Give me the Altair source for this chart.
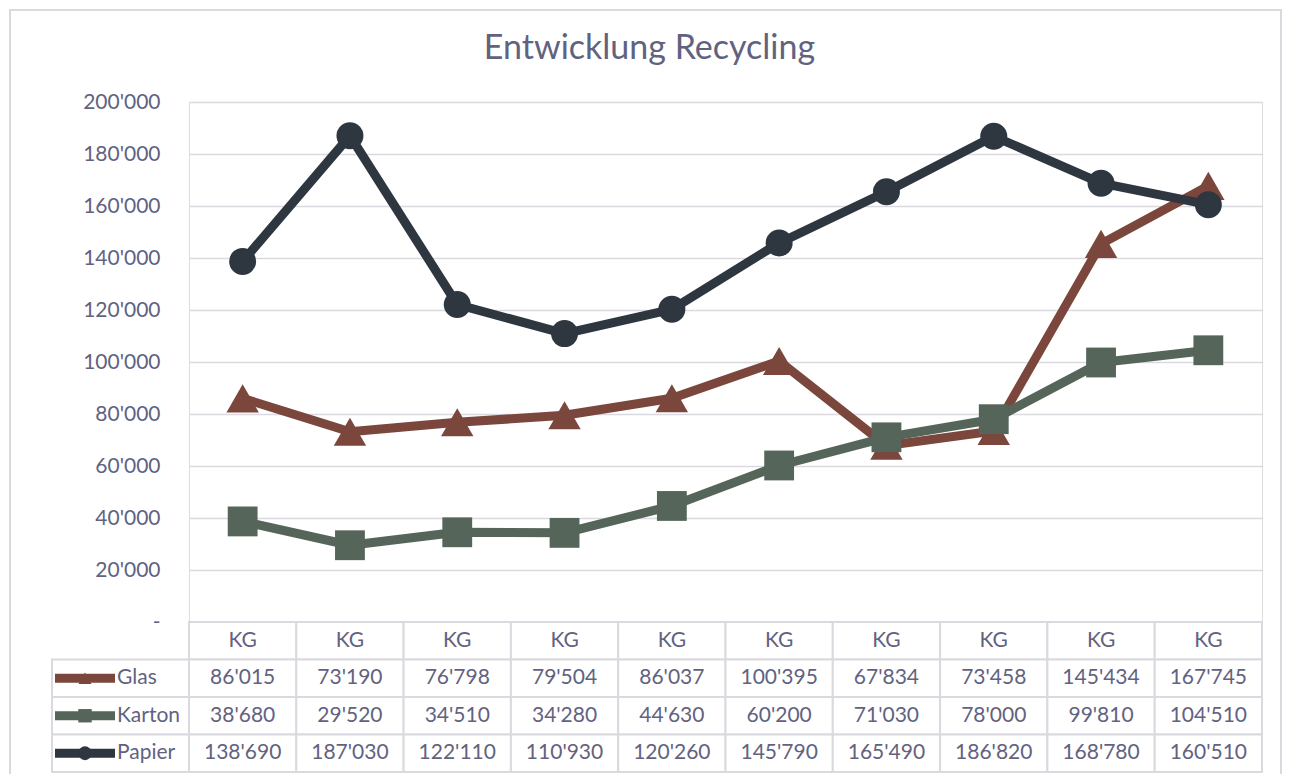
import altair as alt
import pandas as pd

# ---- data ----
title_text = "Entwicklung Recycling"
categories = ["KG", "KG", "KG", "KG", "KG", "KG", "KG", "KG", "KG", "KG"]
series = ["Glas", "Karton", "Papier"]
glas = [86015, 73190, 76798, 79504, 86037, 100395, 67834, 73458, 145434, 167745]
karton = [38680, 29520, 34510, 34280, 44630, 60200, 71030, 78000, 99810, 104510]
papier = [138690, 187030, 122110, 110930, 120260, 145790, 165490, 186820, 168780, 160510]
y_ticks = [0, 20000, 40000, 60000, 80000, 100000, 120000, 140000, 160000, 180000, 200000]

# ---- style ----
colors = ["#7B473D", "#56655A", "#2E3640"]
shapes = ["triangle-up", "square", "circle"]
sizes = [1050, 729, 529]
legend_sizes = [170, 190, 190]
text_color = "#62627F"
grid_color = "#D9D9DF"
FONT = "Lato"
FS = 21

rows = []
for name, vals in zip(series, [glas, karton, papier]):
    for i, v in enumerate(vals):
        rows.append({"idx": i, "series": name, "value": v})
df = pd.DataFrame(rows)

row_order = ["hdr"] + series
tbl_rows = []
for i, c in enumerate(categories):
    tbl_rows.append({"idx": i, "row": "hdr", "label": c})
for name, vals in zip(series, [glas, karton, papier]):
    for i, v in enumerate(vals):
        tbl_rows.append({"idx": i, "row": name, "label": f"{v:,}".replace(",", "'")})
tbl = pd.DataFrame(tbl_rows)
leg = pd.DataFrame({"row": series, "series": series})

xscale = alt.Scale(type="band", paddingInner=0, paddingOuter=0)
X = alt.X("idx:O", scale=xscale, axis=None)
cscale = alt.Scale(domain=series, range=colors)
shscale = alt.Scale(domain=series, range=shapes)
szscale = alt.Scale(domain=series, range=sizes)
rowscale = alt.Scale(type="band", domain=row_order, range=[520, 670], paddingInner=0, paddingOuter=0)

yaxis = alt.Axis(
    values=y_ticks,
    labelExpr="datum.value == 0 ? '-\u2007' : replace(format(datum.value, ','), ',', \"'\")",
    grid=True, gridColor=grid_color, gridWidth=1.5,
    domain=False, ticks=False, tickSize=0,
    labelFontSize=FS, labelColor=text_color, labelFont=FONT, labelPadding=29,
    title=None,
)
Y = alt.Y("value:Q", scale=alt.Scale(domain=[0, 200000], nice=False), axis=yaxis)

plot_layers = []
for name in series:
    base = alt.Chart(df).transform_filter(alt.datum.series == name)
    plot_layers.append(
        base.mark_line(strokeWidth=9, strokeJoin="round").encode(
            x=X, y=Y, color=alt.Color("series:N", scale=cscale, legend=None)
        )
    )
    plot_layers.append(
        base.mark_point(filled=True, opacity=1).encode(
            x=X, y=Y,
            color=alt.Color("series:N", scale=cscale, legend=None),
            shape=alt.Shape("series:N", scale=shscale, legend=None),
            size=alt.Size("series:N", scale=szscale, legend=None),
        )
    )
plot = alt.layer(*plot_layers)

RY = alt.Y("row:N", scale=rowscale, axis=None)
RYc = alt.Y("row:N", scale=rowscale, axis=None, bandPosition=0.5)

cells = alt.Chart(tbl).mark_rect(fill="white", stroke=grid_color, strokeWidth=2).encode(x=X, y=RY)
leg_cells = alt.Chart(leg).mark_rect(fill="white", stroke=grid_color, strokeWidth=2).encode(
    x=alt.value(-137), x2=alt.value(0), y=RY
)
cell_text = alt.Chart(tbl).mark_text(fontSize=FS, color=text_color, font=FONT, baseline="middle").encode(
    x=X, y=RYc, text="label:N"
)
leg_line = alt.Chart(leg).mark_rule(strokeWidth=9).encode(
    x=alt.value(-134), x2=alt.value(-74), y=RYc,
    color=alt.Color("series:N", scale=cscale, legend=None),
)
leg_sym = alt.Chart(leg).mark_point(filled=True, opacity=1).encode(
    x=alt.value(-104), y=RYc,
    color=alt.Color("series:N", scale=cscale, legend=None),
    shape=alt.Shape("series:N", scale=shscale, legend=None),
    size=alt.Size("series:N", scale=alt.Scale(domain=series, range=legend_sizes), legend=None),
)
leg_text = alt.Chart(leg).mark_text(fontSize=FS, color=text_color, font=FONT, align="left", baseline="middle").encode(
    x=alt.value(-72), y=RYc, text="series:N"
)
table = alt.layer(cells, leg_cells, cell_text, leg_line, leg_sym, leg_text)

border = alt.Chart(pd.DataFrame({"a": [0]})).mark_rect(
    fill="transparent", stroke=grid_color, strokeWidth=2
).encode(x=alt.value(-179), x2=alt.value(1092), y=alt.value(-92), y2=alt.value(700))

title = alt.Chart(pd.DataFrame({"t": [title_text]})).mark_text(
    fontSize=34, color=text_color, font=FONT, align="center", baseline="alphabetic"
).encode(x=alt.value(460.5), y=alt.value(-43), text="t:N")

chart = (
    alt.layer(border, title, plot, table)
    .resolve_scale(y="independent", size="independent")
    .properties(
        width=1073,
        height=520,
        autosize=alt.AutoSizeParams(type="none"),
        padding={"left": 181, "top": 94, "right": 21, "bottom": 152},
        background="white",
    )
    .configure_view(stroke=None)
    .configure(font=FONT)
)

chart.save("out.html", embed_options={"renderer": "svg", "actions": False})
